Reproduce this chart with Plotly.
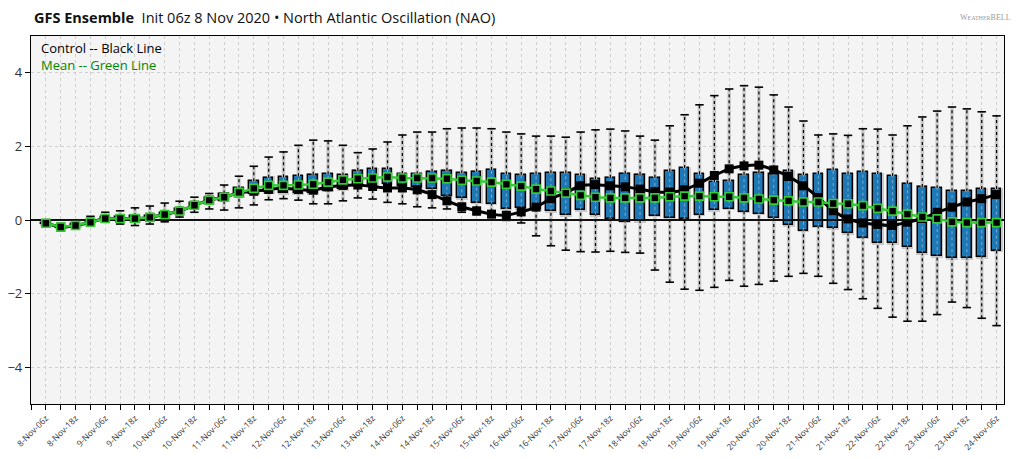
import pandas as pd
import plotly.graph_objects as go

# ---- data ----
times = pd.date_range("2020-11-08 06:00", "2020-11-24 06:00", freq="6h")
labels = [f"{t.day}-{t.strftime('%b')}-{t.hour:02d}z" for t in times]

mean_vals = [-0.09, -0.19, -0.15, -0.06, 0.04, 0.04, 0.04, 0.07, 0.15, 0.24, 0.40, 0.54, 0.62, 0.75, 0.86, 0.94,
             0.94, 0.95, 0.97, 1.03, 1.09, 1.12, 1.14, 1.17, 1.14, 1.14, 1.14, 1.12, 1.08, 1.06, 1.03, 0.97,
             0.92, 0.84, 0.79, 0.73, 0.67, 0.62, 0.60, 0.60, 0.60, 0.60, 0.63, 0.65, 0.65, 0.63, 0.63, 0.60, 0.57,
             0.54, 0.52, 0.49, 0.49, 0.45, 0.44, 0.39, 0.32, 0.24, 0.16, 0.08, 0.03, -0.05, -0.07, -0.07, -0.07]

control_vals = [-0.09, -0.19, -0.15, -0.06, 0.04, 0.04, 0.04, 0.07, 0.15, 0.24, 0.40, 0.54, 0.62, 0.74, 0.78, 0.83,
                0.86, 0.83, 0.81, 0.90, 0.94, 0.95, 0.91, 0.87, 0.87, 0.82, 0.69, 0.52, 0.36, 0.25, 0.16, 0.13,
                0.22, 0.35, 0.58, 0.74, 0.93, 0.96, 0.93, 0.90, 0.84, 0.77, 0.76, 0.82, 1.00, 1.21, 1.39, 1.47, 1.49,
                1.36, 1.18, 0.93, 0.61, 0.25, 0.03, -0.08, -0.12, -0.15, -0.06, 0.04, 0.21, 0.35, 0.49, 0.58, 0.69]

q1_vals = [-0.11, -0.21, -0.17, -0.10, 0.00, -0.02, -0.03, 0.00, 0.08, 0.18, 0.33, 0.45, 0.52, 0.64, 0.72, 0.76,
           0.73, 0.73, 0.73, 0.79, 0.84, 0.93, 0.93, 0.98, 0.93, 0.91, 0.84, 0.66, 0.59, 0.47, 0.44, 0.31,
           0.32, 0.29, 0.24, 0.13, 0.27, 0.13, 0.04, -0.05, -0.03, 0.11, 0.05, 0.04, 0.14, 0.27, 0.30, 0.22, 0.17,
           0.06, -0.14, -0.29, -0.18, -0.22, -0.36, -0.48, -0.63, -0.63, -0.74, -0.91, -0.98, -1.04, -1.04, -1.01, -0.83]

q3_vals = [-0.07, -0.17, -0.12, -0.02, 0.08, 0.09, 0.10, 0.12, 0.20, 0.30, 0.47, 0.60, 0.72, 0.86, 1.05, 1.15,
           1.16, 1.19, 1.23, 1.24, 1.21, 1.34, 1.38, 1.38, 1.25, 1.24, 1.31, 1.34, 1.27, 1.31, 1.36, 1.24,
           1.22, 1.24, 1.27, 1.27, 1.21, 1.11, 1.15, 1.26, 1.23, 1.15, 1.32, 1.41, 1.24, 1.03, 1.05, 1.22, 1.29,
           1.24, 1.32, 1.22, 1.25, 1.35, 1.24, 1.30, 1.25, 1.19, 0.99, 0.90, 0.86, 0.78, 0.78, 0.84, 0.84]

min_vals = [-0.12, -0.22, -0.19, -0.15, -0.05, -0.11, -0.15, -0.11, -0.05, 0.08, 0.21, 0.30, 0.27, 0.33, 0.41, 0.55,
            0.58, 0.54, 0.44, 0.44, 0.52, 0.60, 0.57, 0.48, 0.44, 0.36, 0.33, 0.30, 0.21, 0.14, 0.07, -0.01,
            -0.08, -0.43, -0.70, -0.82, -0.86, -0.87, -0.85, -0.88, -0.90, -1.36, -1.69, -1.88, -1.91, -1.83, -1.64, -1.80, -1.75,
            -1.66, -1.53, -1.45, -1.53, -1.72, -1.89, -2.14, -2.40, -2.64, -2.75, -2.75, -2.57, -2.23, -2.38, -2.67, -2.87]

max_vals = [-0.06, -0.16, -0.10, 0.10, 0.21, 0.25, 0.33, 0.38, 0.46, 0.51, 0.62, 0.72, 0.95, 1.19, 1.46, 1.71,
            1.85, 2.03, 2.17, 2.15, 2.03, 1.83, 1.93, 2.12, 2.31, 2.39, 2.39, 2.48, 2.50, 2.50, 2.48, 2.39,
            2.34, 2.28, 2.28, 2.25, 2.39, 2.45, 2.47, 2.42, 2.28, 2.17, 2.56, 2.86, 3.13, 3.38, 3.56, 3.65, 3.61,
            3.40, 3.07, 2.69, 2.31, 2.34, 2.30, 2.48, 2.47, 2.31, 2.56, 2.80, 2.96, 3.07, 3.02, 2.94, 2.83]

y_ticks = [-4, -2, 0, 2, 4]

# ---- build figure ----
n = len(labels)
xs = list(range(n))

GREEN = "#33cc33"
BLUE = "#1f77b4"

def segments(lo, hi):
    sx, sy = [], []
    for i in xs:
        sx += [i, i, None]
        sy += [lo[i], hi[i], None]
    return sx, sy

fig = go.Figure()

# whiskers only outside the boxes (min->q1 and q3->max), halo + dotted line
lx, ly = segments(min_vals, q1_vals)
ux, uy = segments(q3_vals, max_vals)
wx, wy = lx + ux, ly + uy
fig.add_trace(go.Scatter(x=wx, y=wy, mode="lines", line=dict(color="#c8c8c8", width=3.5),
                         hoverinfo="skip", showlegend=False))
fig.add_trace(go.Scatter(x=wx, y=wy, mode="lines", line=dict(color="black", width=1.2, dash="dot"),
                         hoverinfo="skip", showlegend=False))
# caps
fig.add_trace(go.Scatter(x=xs + xs, y=min_vals + max_vals, mode="markers",
                         marker=dict(symbol="line-ew", size=6, line=dict(color="black", width=1.6)),
                         hoverinfo="skip", showlegend=False))

# box halo
fig.add_trace(go.Bar(x=xs, y=[(q3_vals[i] - q1_vals[i]) + 0.08 for i in xs],
                     base=[q1_vals[i] - 0.04 for i in xs], width=0.8, opacity=1,
                     marker=dict(color="#c8c8c8", line=dict(width=0)),
                     hoverinfo="skip", showlegend=False))
# boxes
fig.add_trace(go.Bar(x=xs, y=[q3_vals[i] - q1_vals[i] for i in xs], base=q1_vals, width=0.64, opacity=1,
                     marker=dict(color=BLUE, line=dict(color="black", width=1.4)),
                     hoverinfo="skip", showlegend=False))
# faint white dotted line inside boxes
bx, by = segments(q1_vals, q3_vals)
fig.add_trace(go.Scatter(x=bx, y=by, mode="lines", line=dict(color="rgba(255,255,255,0.5)", width=0.8, dash="dot"),
                         hoverinfo="skip", showlegend=False))

# zero line
fig.add_trace(go.Scatter(x=[-1, n - 0.5], y=[0, 0], mode="lines", line=dict(color="#111111", width=2.2),
                         hoverinfo="skip", showlegend=False))

# control line
fig.add_trace(go.Scatter(x=xs, y=control_vals, mode="lines+markers",
                         line=dict(color="black", width=3, shape="spline", smoothing=0.6),
                         marker=dict(symbol="square", size=9, color="black"),
                         hoverinfo="skip", showlegend=False))
# mean line
fig.add_trace(go.Scatter(x=xs, y=mean_vals, mode="lines+markers",
                         line=dict(color=GREEN, width=2.5),
                         marker=dict(symbol="square", size=8, color="black", line=dict(color=GREEN, width=1.6)),
                         hoverinfo="skip", showlegend=False))

tickvals = list(range(-1, n))
ticktext = [labels[i] if (i >= 0 and i % 2 == 0) else "" for i in tickvals]

# page has 8px body margin; target plot area on screen: x 31..1004, y 36..404
OFF = 8
W, H = 1024 - OFF, 459 - OFF
L, T = 31 - OFF, 36 - OFF
R = W - (1004 - OFF)
B = H - (404 - OFF)
pw, ph = W - L - R, H - T - B

def px(sx):
    return (sx - OFF - L) / pw

def py(sy):
    return (H - B - (sy - OFF)) / ph

fig.update_layout(
    width=W, height=H,
    margin=dict(l=L, r=R, t=T, b=B, autoexpand=False),
    paper_bgcolor="white",
    plot_bgcolor="#f4f4f4",
    barmode="overlay",
    bargap=0,
    font=dict(family="Open Sans, Noto Sans, DejaVu Sans", color="#222222"),
    xaxis=dict(range=[-1, n - 0.5], tickmode="array", tickvals=tickvals, ticktext=ticktext,
               tickangle=-45, tickfont=dict(size=8.5, color="#333333"), automargin=False,
               ticks="outside", ticklen=5, tickcolor="black",
               showgrid=True, gridcolor="#d0d0d0", griddash="dot", gridwidth=1,
               showline=True, linecolor="black", linewidth=1.2, mirror=True, zeroline=False),
    yaxis=dict(range=[-5, 5], tickmode="array", tickvals=y_ticks,
               ticktext=[str(v).replace("-", "\u2212") for v in y_ticks],
               tickfont=dict(size=13, color="#333333"), automargin=False,
               ticks="outside", ticklen=5, tickcolor="black",
               showgrid=True, gridcolor="#d0d0d0", griddash="dot", gridwidth=1,
               showline=True, linecolor="black", linewidth=1.2, mirror=True, zeroline=False),
    annotations=[
        dict(x=px(32), y=py(17), xref="paper", yref="paper", xanchor="left", yanchor="middle",
             showarrow=False, align="left",
             text="<b>GFS Ensemble</b>  Init 06z 8 Nov 2020 \u2022 North Atlantic Oscillation (NAO)",
             font=dict(size=14.5, color="#111111")),
        dict(x=px(39), y=py(37), xref="paper", yref="paper", xanchor="left", yanchor="top",
             showarrow=False, align="left",
             text="Control -- Black Line<br><span style='color:#008800'>Mean -- Green Line</span>",
             font=dict(size=13, color="black")),
        dict(x=px(985), y=py(17), xref="paper", yref="paper", xanchor="center", yanchor="middle",
             showarrow=False, text="W<span style='font-size:6px'>EATHER</span>BELL",
             font=dict(size=8, color="#9a9a9a", family="Liberation Serif")),
    ],
)

fig.write_html("out.html")
